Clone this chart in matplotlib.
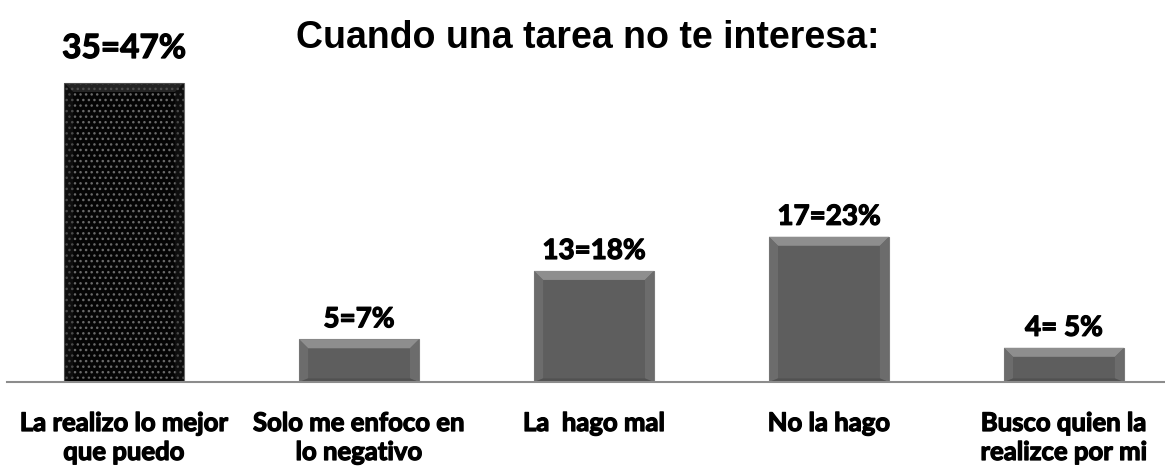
import matplotlib
matplotlib.use("Agg")
import matplotlib.pyplot as plt
from matplotlib.patches import Polygon
import matplotlib.patheffects as pe

categories = ["La realizo lo mejor\nque puedo", "Solo me enfoco en\nlo negativo",
              "La  hago mal", "No la hago", "Busco quien la\nrealizce por mi"]
counts = [35, 5, 13, 17, 4]
value_labels = ["35=47%", "5=7%", "13=18%", "17=23%", "4= 5%"]
title = "Cuando una tarea no te interesa:"

W, H = 1165, 466
fig = plt.figure(figsize=(W / 100, H / 100), dpi=100)
fig.patch.set_facecolor("white")

ax_bottom = (H - 382) / H
ax_height = 341.7 / H
ax = fig.add_axes([0, ax_bottom, 1, ax_height])
ax.set_xlim(-0.528, 4.43)
ax.set_ylim(0, 40)
ax.axis("off")

x = list(range(len(categories)))
width = 0.51
bars = ax.bar(x, counts, width=width, color="#5e5e5e", edgecolor="#7a7a7a",
              linewidth=0.8, zorder=2)

b0 = bars[0]
b0.set_facecolor("#050505")
b0.set_edgecolor("#6a6a6a")
b0.set_hatch("...")

px_x = 1.0 / 235.0
px_y = 40.0 / 341.7
bev_x = 9 * px_x
bev_y = 9 * px_y
for i, b in enumerate(bars):
    x0, y0 = b.get_x(), b.get_y()
    w, h = b.get_width(), b.get_height()
    x1, y1 = x0 + w, y0 + h
    if i == 0:
        top_c, side_c, bot_c, alpha = "#3a3a3a", "#1c1c1c", "#000000", 0.6
    else:
        top_c, side_c, bot_c, alpha = "#8e8e8e", "#727272", "#4c4c4c", 1.0
    by = min(bev_y, h / 3)
    top = Polygon([(x0, y1), (x1, y1), (x1 - bev_x, y1 - by), (x0 + bev_x, y1 - by)],
                  closed=True, facecolor=top_c, edgecolor="none", alpha=alpha, zorder=3)
    left = Polygon([(x0, y0), (x0, y1), (x0 + bev_x, y1 - by), (x0 + bev_x, y0 + by * 0.4)],
                   closed=True, facecolor=side_c, edgecolor="none", alpha=alpha * 0.7, zorder=3)
    right = Polygon([(x1, y0), (x1, y1), (x1 - bev_x, y1 - by), (x1 - bev_x, y0 + by * 0.4)],
                    closed=True, facecolor=side_c, edgecolor="none", alpha=alpha * 0.7, zorder=3)
    bot = Polygon([(x0, y0), (x1, y0), (x1 - bev_x, y0 + by * 0.4), (x0 + bev_x, y0 + by * 0.4)],
                  closed=True, facecolor=bot_c, edgecolor="none", alpha=alpha * 0.7, zorder=3)
    for p in (top, left, right, bot):
        ax.add_patch(p)

ax.plot([-0.5, 4.43], [0, 0], color="#8c8c8c", lw=1.5, zorder=4, clip_on=False)

lab_font = "Lato"
heavy = [pe.withStroke(linewidth=0.9, foreground="black")]
for i, (b, lab) in enumerate(zip(bars, value_labels)):
    cx = b.get_x() + b.get_width() / 2
    top = b.get_height()
    if i == 0:
        ax.annotate(lab, (cx, top), xytext=(0, 20), textcoords="offset pixels",
                    ha="center", va="bottom", fontsize=24, fontweight="bold",
                    family=lab_font, color="black", path_effects=heavy)
    else:
        ax.annotate(lab, (cx, top), xytext=(0, 7), textcoords="offset pixels",
                    ha="center", va="bottom", fontsize=20, fontweight="bold",
                    family=lab_font, color="black", path_effects=heavy)

for xi, cat in zip(x, categories):
    ax.annotate(cat, (xi, 0), xytext=(0, -29), textcoords="offset pixels",
                ha="center", va="top", fontsize=18.5, fontweight="bold",
                family=lab_font, color="black", linespacing=1.25,
                annotation_clip=False, path_effects=heavy)

fig.text(588 / W, 1 - 38 / H, title, ha="center", va="center",
         fontsize=27, fontweight="bold", family="Liberation Sans", color="black")

fig.savefig("out.png", dpi=100, facecolor="white")
